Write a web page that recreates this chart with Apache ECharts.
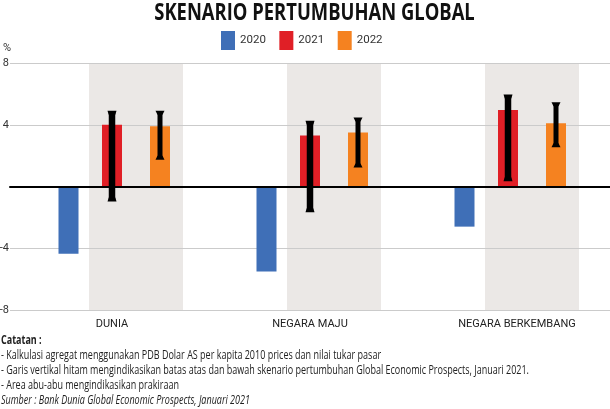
<!DOCTYPE html>
<html><head><meta charset="utf-8">
<style>html,body{margin:0;padding:0;background:#fff}#c{width:610px;height:409px}</style>
<script src="https://cdn.jsdelivr.net/npm/echarts@6/dist/echarts.min.js"></script>
</head><body><div id="c"></div>
<script>
const titleText = 'SKENARIO PERTUMBUHAN GLOBAL';
const categories = ['DUNIA', 'NEGARA MAJU', 'NEGARA BERKEMBANG'];
const yTicks = [-8, -4, 0, 4, 8];
const values2020 = [-4.35, -5.5, -2.6];
const values2021 = [4.0, 3.3, 4.95];
const values2022 = [3.9, 3.5, 4.1];
const low2021 = [-0.9, -1.6, 0.4];
const high2021 = [4.85, 4.2, 5.9];
const low2022 = [1.8, 1.3, 2.6];
const high2022 = [4.85, 4.4, 5.4];
const forecastBand = [-8, 8];
const notes = [
  '- Kalkulasi agregat menggunakan PDB Dolar AS per kapita 2010 prices dan nilai tukar pasar',
  '- Garis vertikal hitam mengindikasikan batas atas dan bawah skenario pertumbuhan Global Economic Prospects, Januari 2021.',
  '- Area abu-abu mengindikasikan prakiraan'
];
const noteHead = 'Catatan :';
const sourceText = 'Sumber : Bank Dunia Global Economic Prospects, Januari 2021';

const FONT = '"Open Sans",sans-serif';
const AXF = 'Roboto,sans-serif';
const BLUE = '#3f6fb7', RED = '#e01f26', ORANGE = '#f58220';
const chart = echarts.init(document.getElementById('c'), null, {renderer: 'canvas'});

function errorSeries(name, low, high, dx, stem) {
  return {
    type: 'custom', name, xAxisIndex: 1, yAxisIndex: 1, z: 5, clip: false,
    data: low.map((l, i) => [i, l, high[i]]),
    renderItem(params, api) {
      const x = api.coord([api.value(0), 0])[0] + dx;
      const y1 = api.coord([api.value(0), api.value(1)])[1];
      const y2 = api.coord([api.value(0), api.value(2)])[1];
      const s = {fill: '#000'};
      return {type: 'group', children: [
        {type: 'rect', shape: {x: x - stem / 2, y: y2, width: stem, height: y1 - y2}, style: s},
        {type: 'polygon', shape: {points: [[x - 4.5, y2 - 1], [x + 4.5, y2 - 1], [x + stem / 2, y2 + 3], [x - stem / 2, y2 + 3]]}, style: s},
        {type: 'polygon', shape: {points: [[x - 4.5, y1 + 1], [x + 4.5, y1 + 1], [x + stem / 2, y1 - 3], [x - stem / 2, y1 - 3]]}, style: s}
      ]};
    }
  };
}

const textEls = [];
const addText = (t, x, y, font, sx, fill, align) => textEls.push({
  type: 'text', x, y, scaleX: sx, silent: true,
  style: {text: t, font, fill, textAlign: align || 'left', textVerticalAlign: 'middle'}
});
addText(titleText, 314.5, 13, 'bold 23px ' + FONT, 0.8, '#111', 'center');
addText(noteHead, 1, 341, 'bold 12px ' + FONT, 0.75, '#222');
notes.forEach((n, i) => addText(n, 1, 356 + i * 15, '12px ' + FONT, 0.75, '#222'));
addText(sourceText, 1, 401, 'italic 12px ' + FONT, 0.75, '#222');
addText('%', 3, 48, '11px ' + AXF, 1, '#333');

const barGrid = l => ({left: l, top: 63, height: 247, width: 594, outerBoundsMode: 'none'});
const hiddenX = g => ({type: 'category', gridIndex: g, data: categories, show: false});
const hiddenY = g => ({type: 'value', gridIndex: g, min: -8, max: 8, interval: 4, show: false});

chart.setOption({
  animation: false,
  backgroundColor: '#fff',
  legend: {
    data: ['2020', '2021', '2022'], left: 221, top: 31, padding: 0, itemWidth: 14, itemHeight: 19, itemGap: 13.5,
    textStyle: {fontFamily: AXF, fontSize: 11.5, color: '#333'}, icon: 'rect'
  },
  grid: [
    {left: 10, right: 0, top: 63, height: 247, outerBoundsMode: 'none'},
    barGrid(13), barGrid(-30.5), barGrid(61)
  ],
  xAxis: [
    {type: 'category', gridIndex: 0, data: categories, z: 6,
     axisLine: {onZero: true, lineStyle: {color: '#000', width: 2}}, axisTick: {show: false}, axisLabel: {show: false}, splitLine: {show: false}},
    {type: 'category', gridIndex: 1, data: categories, position: 'bottom',
     axisLine: {show: false, onZero: false}, axisTick: {show: false}, splitLine: {show: false},
     axisLabel: {margin: 9, fontFamily: AXF, fontSize: 11, color: '#222', interval: 0,
       formatter: (v, i) => i === 2 ? '{s|' + v + '}' : v,
       rich: {s: {fontFamily: AXF, fontSize: 11, color: '#222', padding: [0, 0, 0, 18]}}}},
    hiddenX(2), hiddenX(3)
  ],
  yAxis: [
    {type: 'value', gridIndex: 0, min: -8, max: 8, interval: 4,
     axisLine: {show: false}, axisTick: {show: false},
     axisLabel: {margin: 1, fontFamily: AXF, fontSize: 11, color: '#333', formatter: v => v === 0 ? '' : (yTicks.includes(v) ? String(v) : '')},
     splitLine: {lineStyle: {color: '#cbcbcb', width: 1}}},
    hiddenY(1), hiddenY(2), hiddenY(3)
  ],
  graphic: textEls,
  series: [
    {type: 'custom', name: 'band', xAxisIndex: 1, yAxisIndex: 1, z: -1, silent: true, clip: false,
     data: categories.map((c, i) => [i, forecastBand[0], forecastBand[1]]),
     renderItem(params, api) {
       const x = api.coord([api.value(0), 0])[0] + 24;
       const y1 = api.coord([api.value(0), api.value(1)])[1];
       const y2 = api.coord([api.value(0), api.value(2)])[1];
       return {type: 'rect', shape: {x: x - 47, y: y2, width: 94, height: y1 - y2}, style: {fill: '#ebe8e6'}};
     }},
    {type: 'bar', name: '2020', xAxisIndex: 2, yAxisIndex: 2, data: values2020, barWidth: 20, itemStyle: {color: BLUE}, z: 3},
    {type: 'bar', name: '2021', xAxisIndex: 1, yAxisIndex: 1, data: values2021, barWidth: 20, itemStyle: {color: RED}, z: 3},
    {type: 'bar', name: '2022', xAxisIndex: 3, yAxisIndex: 3, data: values2022, barWidth: 20, itemStyle: {color: ORANGE}, z: 3},
    errorSeries('err2021', low2021, high2021, 0, 6.5),
    errorSeries('err2022', low2022, high2022, 48, 5)
  ]
});
</script></body></html>
